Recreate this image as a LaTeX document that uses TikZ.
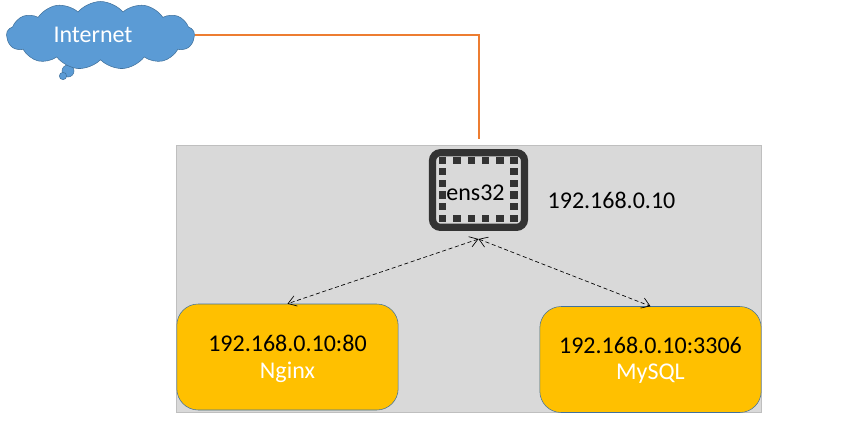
\documentclass[tikz,border=0pt]{standalone}
\usepackage{fontspec}
\setmainfont{Carlito}
\usetikzlibrary{arrows.meta, shapes.symbols}
\definecolor{cloudblue}{HTML}{5B9BD5}
\definecolor{edgeblue}{HTML}{41719C}
\definecolor{hostgray}{HTML}{D9D9D9}
\definecolor{hostedge}{HTML}{BFBFBF}
\definecolor{svcyellow}{HTML}{FFC000}
\definecolor{wireorange}{HTML}{ED7D31}
\definecolor{nicdark}{HTML}{333333}
\begin{document}
\begin{tikzpicture}[
  x=0.75pt, y=-0.75pt,
  every node/.style={font=\fontsize{18}{22}\selectfont},
  service/.style={rectangle, rounded corners=16pt, draw=edgeblue, fill=svcyellow, minimum width=166pt, minimum height=79.5pt, inner sep=0pt},
  nicpin/.style={rectangle, fill=nicdark, minimum size=5.4pt, inner sep=0pt},
  bubble/.style={circle, draw=edgeblue, fill=cloudblue, inner sep=0pt},
  label/.style={inner sep=0pt},
  link/.style={densely dashed, {Straight Barb[length=6pt,width=8pt]}-{Straight Barb[length=6pt,width=8pt]}, line width=0.5pt},
]
  \useasboundingbox (0,0) rectangle (862,432);

  \node[rectangle, draw=hostedge, fill=hostgray, minimum width=438.6pt, minimum height=200pt, inner sep=0pt] (host) at (469,279) {};

  \node[bubble, minimum size=9pt] (bubblea) at (68,71) {};
  \node[bubble, minimum size=5.5pt] (bubbleb) at (63,76) {};
  \node[cloud, cloud puffs=13, cloud puff arc=100, aspect=2.9, draw=edgeblue, fill=cloudblue, minimum width=141pt, minimum height=51pt, inner sep=0pt] (internet) at (100.5,35.5) {};
  \node[label, text=white] (internettext) at (93,35) {Internet};

  \node[rectangle, rounded corners=6pt, draw=nicdark, line width=5.4pt, minimum width=69pt, minimum height=56pt, inner sep=0pt] (nic) at (478.5,190) {};
  \foreach \k in {442.7,457,471.3,485.7,500,514} {
    \node[nicpin] (pt\k) at (\k,160.3) {};
    \node[nicpin] (pb\k) at (\k,218.3) {};
  }
  \foreach \k in {171.7,183.3,195,206.7} {
    \node[nicpin] (pl\k) at (442.7,\k) {};
    \node[nicpin] (pr\k) at (514,\k) {};
  }
  \node[label] (nictext) at (475.5,193) {ens32};
  \node[label] (ip) at (611.5,200) {192.168.0.10};

  \node[service] (nginx) at (287.5,357) {};
  \node[label] (nginxip) at (287.5,343) {192.168.0.10:80};
  \node[label, text=white] (nginxname) at (287.5,372) {Nginx};

  \node[service] (mysql) at (650.5,359.5) {};
  \node[label] (mysqlip) at (650.5,345) {192.168.0.10:3306};
  \node[label, text=white] (mysqlname) at (650.5,374) {MySQL};

  \coordinate (uplink) at (478.5,139);
  \coordinate (hub) at (478.5,239);

  \draw[wireorange, line width=1.5pt] (internet.east |- 0,35) -- (478.5,35) -- (uplink);
  \draw[link] (hub) to (nginx.north);
  \draw[link] (hub) to (mysql.north);
\end{tikzpicture}
\end{document}
